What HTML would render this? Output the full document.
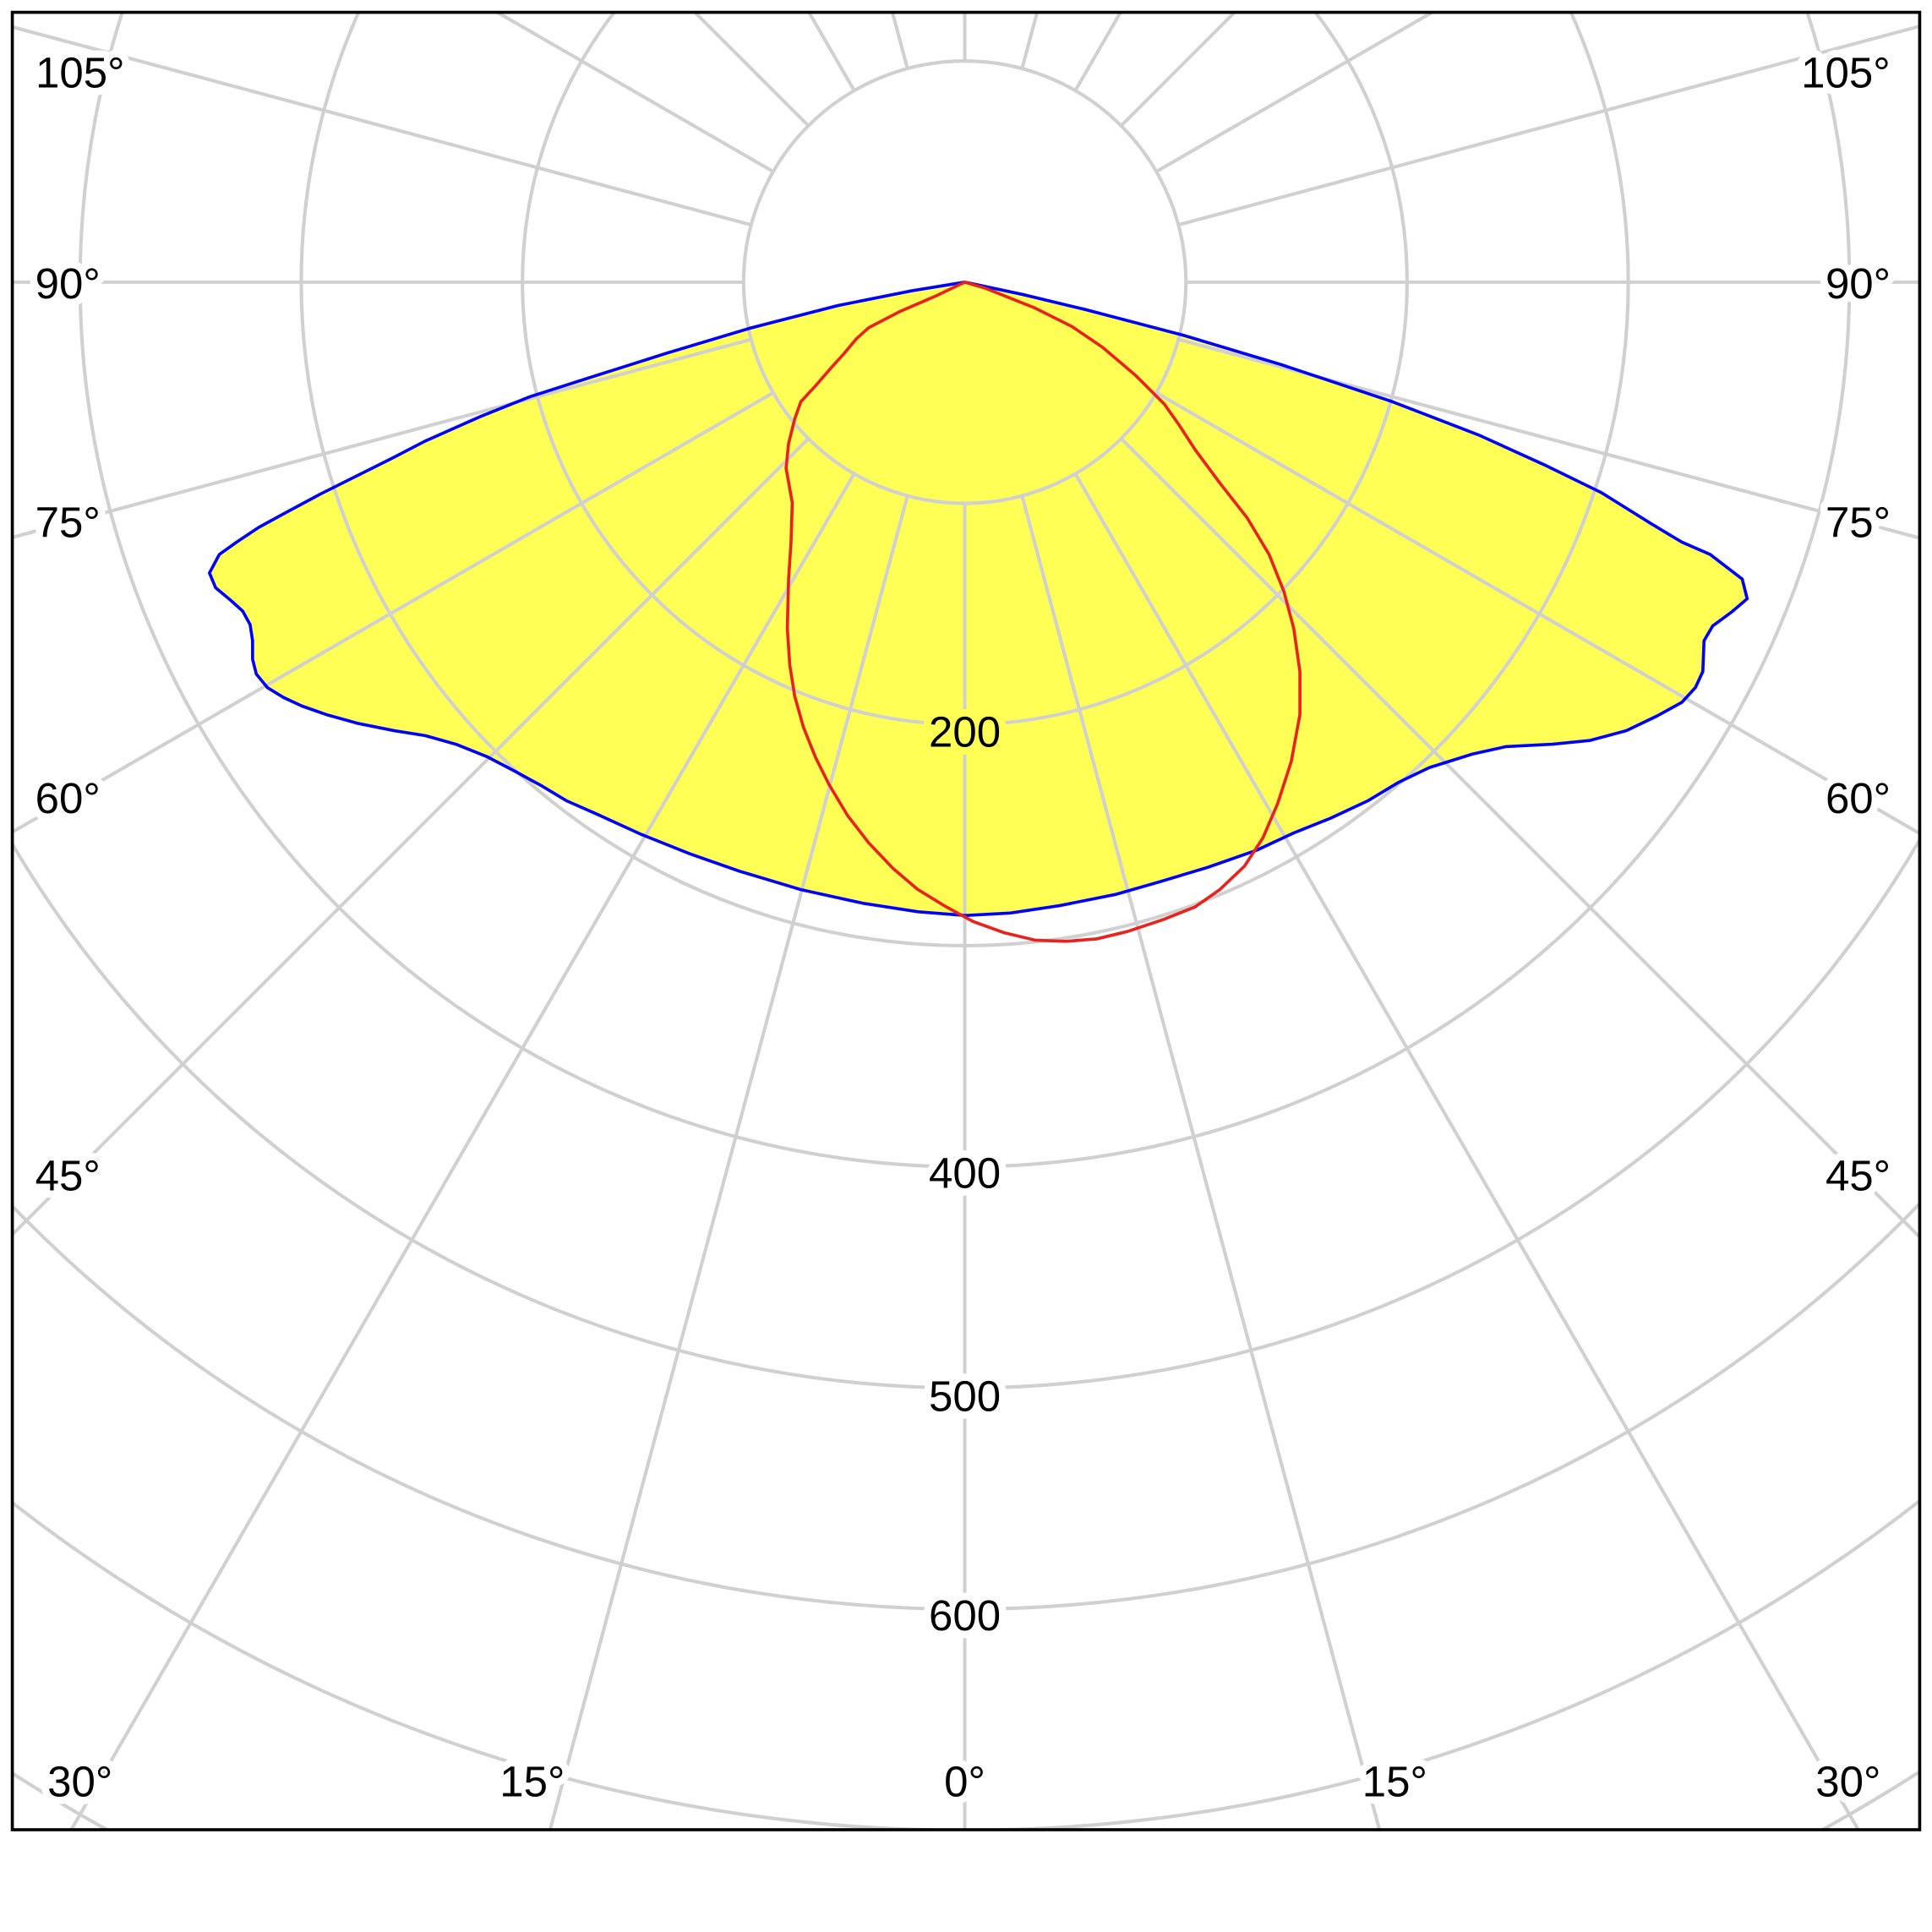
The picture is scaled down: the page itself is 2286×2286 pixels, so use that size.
<!DOCTYPE html>
<html><head><meta charset="utf-8"><style>html,body{margin:0;padding:0;background:#fff;width:2286px;height:2286px;overflow:hidden}svg{display:block}</style></head><body>
<svg width="2286" height="2286" viewBox="0 0 1568 1568" xmlns="http://www.w3.org/2000/svg">
<defs><clipPath id="c"><rect x="10" y="10" width="1548" height="1475"/></clipPath></defs>
<rect width="1568" height="1568" fill="#fff"/>
<g clip-path="url(#c)">
<path fill="#ffff55" d="M783,229 L740,236 680,248 610,266 540,287 480,306 430,322 390,338 345,358 318,372 290,386 260,401 232,416 210,428 192,440 178,450 170,465 175,477 187,487 197,496 203,507 205,520 205,535 208,547 217,558 230,566 245,573 265,580 290,587 320,593 345,597 370,604 395,614 418,626 440,638 460,650 485,661 520,677 560,693 600,707 650,722 700,733 745,740 783,743 820,741 860,735 905,726 940,716 980,704 1020,690 1050,676 1080,664 1110,650 1135,635 1160,623 1195,612 1222,606 1260,604 1290,601 1320,593 1345,581 1365,570 1376,558 1382,545 1383,520 1390,508 1405,497 1418,486 1414,470 1388,450 1365,440 1340,425 1300,400 1255,378 1200,353 1130,326 1040,296 960,272 880,251 830,239 Z"/>
<g fill="none" stroke="#d0d0d0" stroke-width="2.8">
<circle cx="783" cy="229" r="179.5"/><circle cx="783" cy="229" r="359"/><circle cx="783" cy="229" r="538.5"/><circle cx="783" cy="229" r="718"/><circle cx="783" cy="229" r="897.5"/><circle cx="783" cy="229" r="1077"/><circle cx="783" cy="229" r="1256.5"/><circle cx="783" cy="229" r="1436"/><circle cx="783" cy="229" r="1615.5"/>
<path d="M783,408.5L783,2229 M829.5,402.4L1300.6,2160.8 M736.5,402.4L265.4,2160.8 M872.75,384.5L1783,1961 M693.25,384.5L-217,1961 M909.9,355.9L2197.2,1643.2 M656.1,355.9L-631.2,1643.2 M938.5,318.75L2515,1229 M627.5,318.75L-949,1229 M956.4,275.5L2714.8,746.6 M609.6,275.5L-1148.8,746.6 M962.5,229L2783,229 M603.5,229L-1217,229 M956.4,182.5L2714.8,-288.6 M609.6,182.5L-1148.8,-288.6 M938.5,139.25L2515,-771 M627.5,139.25L-949,-771 M909.9,102.1L2197.2,-1185.2 M656.1,102.1L-631.2,-1185.2 M872.75,73.5L1783,-1503 M693.25,73.5L-217,-1503 M829.5,55.6L1300.6,-1702.8 M736.5,55.6L265.4,-1702.8 M783,49.5L783,-1771"/>
</g>
<path fill="none" stroke="#0000ff" stroke-width="2.5" stroke-linejoin="round" d="M783,229 L740,236 680,248 610,266 540,287 480,306 430,322 390,338 345,358 318,372 290,386 260,401 232,416 210,428 192,440 178,450 170,465 175,477 187,487 197,496 203,507 205,520 205,535 208,547 217,558 230,566 245,573 265,580 290,587 320,593 345,597 370,604 395,614 418,626 440,638 460,650 485,661 520,677 560,693 600,707 650,722 700,733 745,740 783,743 820,741 860,735 905,726 940,716 980,704 1020,690 1050,676 1080,664 1110,650 1135,635 1160,623 1195,612 1222,606 1260,604 1290,601 1320,593 1345,581 1365,570 1376,558 1382,545 1383,520 1390,508 1405,497 1418,486 1414,470 1388,450 1365,440 1340,425 1300,400 1255,378 1200,353 1130,326 1040,296 960,272 880,251 830,239 Z"/>
<path fill="none" stroke="#e8231e" stroke-width="2.5" stroke-linejoin="round" d="M783,229 L760,240 730,253 705,266 695,275 685,287 675,298 662,313 650,326 645,340 640,360 638,380 643,408 642,440 640,470 639,510 641,540 645,565 652,590 662,615 673,637 688,662 705,684 725,705 745,722 768,736 790,748 815,757 840,763 865,764 890,762 915,756 945,746 970,736 990,722 1010,703 1025,680 1037,652 1048,618 1055,580 1055,545 1050,510 1042,480 1030,450 1012,420 990,392 970,365 957,345 945,328 922,305 895,282 870,265 840,250 800,234 Z"/>
<g font-family="Liberation Sans, DejaVu Sans, sans-serif" font-size="35" text-anchor="middle" fill="#000" stroke="#fff" stroke-width="12" paint-order="stroke" stroke-linejoin="round">
<text x="65" y="71">105°</text><text x="55" y="242">90°</text><text x="55" y="436">75°</text><text x="55" y="660">60°</text><text x="55" y="966">45°</text><text x="65" y="1458">30°</text><text x="432" y="1458">15°</text><text x="783" y="1458">0°</text>
<text x="1498" y="71">105°</text><text x="1508" y="242">90°</text><text x="1508" y="436">75°</text><text x="1508" y="660">60°</text><text x="1508" y="966">45°</text><text x="1500" y="1458">30°</text><text x="1132" y="1458">15°</text>
<text x="783" y="606" stroke="#ffff55">200</text><text x="783" y="964">400</text><text x="783" y="1145">500</text><text x="783" y="1323">600</text>
</g>
</g>
<rect x="10" y="10" width="1548" height="1475" fill="none" stroke="#000" stroke-width="2.5"/>
</svg>
</body></html>
